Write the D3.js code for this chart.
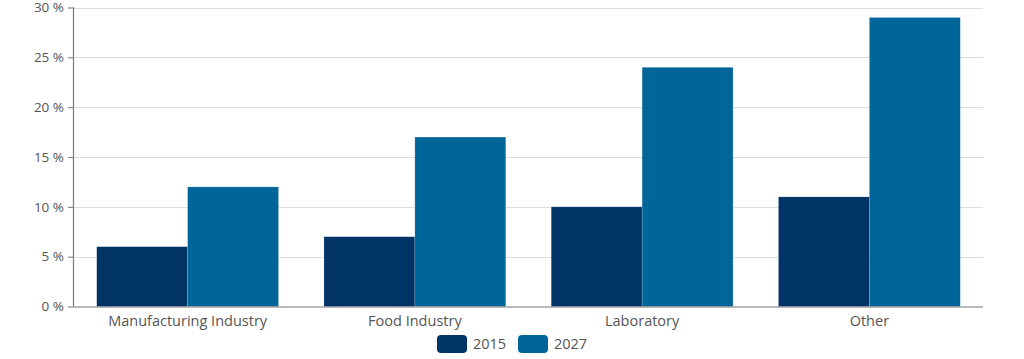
<!DOCTYPE html>
<html><head><meta charset="utf-8">
<script src="https://cdn.jsdelivr.net/npm/d3@7"></script>
<style>body{margin:0;background:#fff;}svg{display:block;font-family:"Open Sans",sans-serif;}</style>
</head><body><svg id="c" width="1024" height="359"></svg>
<script>
const categories = ["Manufacturing Industry","Food Industry","Laboratory","Other"];
const seriesNames = ["2015","2027"];
const values2015 = [6,7,10,11];
const values2027 = [12,17,24,29];
const yTicks = [0,5,10,15,20,25,30];
const colors = ["#003366","#006699"];

const svg = d3.select("#c");
const L=74, R=983, T=7.5, B=306.5;
const x0 = d3.scaleBand().domain(categories).range([L,R]).padding(0);
const bw = x0.bandwidth();
const x1 = d3.scaleBand().domain(seriesNames).range([bw*0.1, bw*0.9]).padding(0);
const y = d3.scaleLinear().domain([0,30]).range([B,T]);

// gridlines
svg.append("g").selectAll("line").data(yTicks.filter(d=>d>0)).join("line")
  .attr("x1",L).attr("x2",R).attr("y1",d=>Math.round(y(d))+0.5).attr("y2",d=>Math.round(y(d))+0.5)
  .attr("stroke","#dcdcdc").attr("stroke-width",1);

const data = categories.map((c,i)=>({c, vals:[values2015[i],values2027[i]]}));
const g = svg.append("g");
data.forEach(d=>{
  seriesNames.forEach((s,j)=>{
    g.append("rect")
      .attr("x", x0(d.c)+x1(s))
      .attr("y", y(d.vals[j]))
      .attr("width", x1.bandwidth())
      .attr("height", B - y(d.vals[j]))
      .attr("fill", colors[j])
      .attr("stroke","#ffffff").attr("stroke-opacity",0.25).attr("stroke-width",0.6);
  });
});

// y axis
const yAxis = d3.axisLeft(y).tickValues(yTicks).tickSize(6).tickPadding(4).tickFormat(d=>d+" %");
const ya = svg.append("g").attr("transform",`translate(${L},0)`).call(yAxis);
ya.select(".domain").attr("stroke","#777").attr("stroke-width",1.2).attr("d",`M-0.5,${T}V${B}`);
ya.selectAll(".tick line").attr("stroke","#777");
ya.selectAll("text").attr("fill","#555").style("font-size","13.5px").style("font-family","Open Sans");

// x axis
const xAxis = d3.axisBottom(x0).tickSize(0).tickPadding(9);
const xa = svg.append("g").attr("transform",`translate(0,${B})`).call(xAxis);
xa.select(".domain").attr("stroke","#777").attr("stroke-width",1.2).attr("d",`M${L},0.5H${R}`);
xa.selectAll("text").attr("fill","#555").style("font-size","14.5px").style("font-family","Open Sans");

// legend
const legend = svg.append("g");
const legendX = [437, 518];
seriesNames.forEach((s,i)=>{
  legend.append("rect").attr("x",legendX[i]).attr("y",335).attr("width",30).attr("height",18)
    .attr("rx",4).attr("fill",colors[i]);
  legend.append("text").attr("x",legendX[i]+36).attr("y",344).attr("dy","0.35em")
    .attr("fill","#555").style("font-size","14.5px").text(s);
});
</script></body></html>
